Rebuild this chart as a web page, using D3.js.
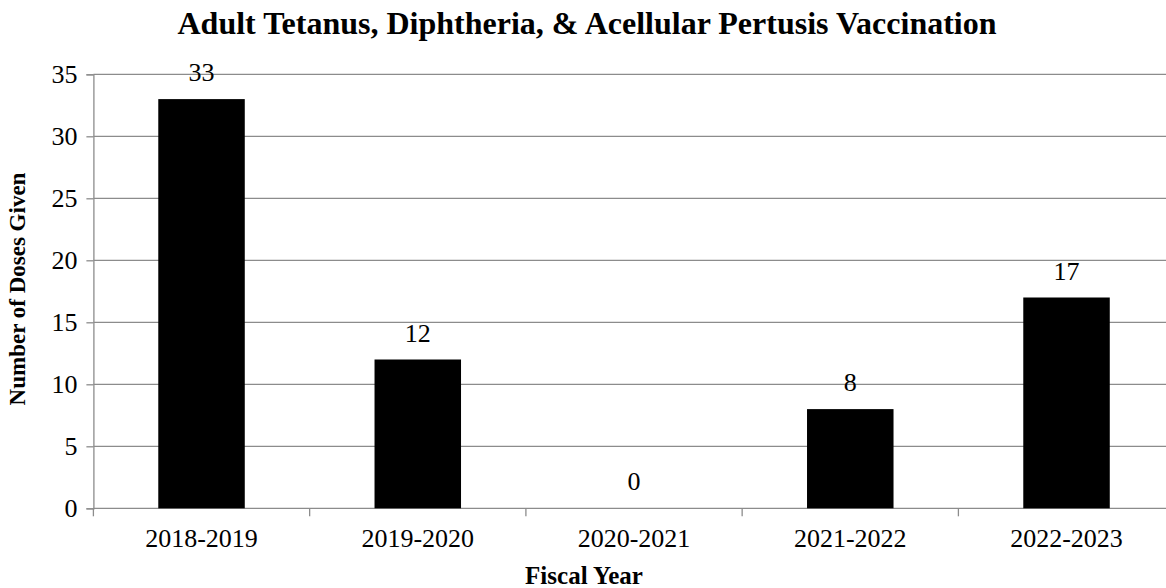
<!DOCTYPE html>
<html>
<head>
<meta charset="utf-8">
<script src="https://cdn.jsdelivr.net/npm/d3@7"></script>
<style>
  body { margin: 0; background: #fff; }
  svg { display: block; font-family: 'Liberation Serif', 'Times New Roman', serif; }
</style>
</head>
<body>
<svg id="chart"></svg>
<script>
const WIDTH = 1166;
const HEIGHT = 588;

const years = ['2018-2019', '2019-2020', '2020-2021', '2021-2022', '2022-2023'];
const doses = [33, 12, 0, 8, 17];
const yTicks = [0, 5, 10, 15, 20, 25, 30, 35];

const margin = {top: 74.3, left: 93.4, bottom: 508.3};
const plotRight = margin.left + 216.25 * years.length;

const svg = d3.select('#chart')
  .attr('width', WIDTH)
  .attr('height', HEIGHT);

const x = d3.scaleBand()
  .domain(years)
  .range([margin.left, plotRight])
  .paddingInner(0.6)
  .paddingOuter(0.3);

const y = d3.scaleLinear()
  .domain([0, 35])
  .range([margin.bottom, margin.top]);

// Gridlines
svg.append('g')
  .selectAll('line')
  .data(yTicks)
  .join('line')
  .attr('x1', margin.left)
  .attr('x2', plotRight)
  .attr('y1', d => y(d))
  .attr('y2', d => y(d))
  .attr('stroke', '#8c8c8c')
  .attr('stroke-width', 1.3);

// Y axis
const yAxis = svg.append('g')
  .attr('transform', `translate(${margin.left},0)`)
  .call(d3.axisLeft(y).tickValues(yTicks).tickSize(7).tickPadding(9));
yAxis.select('.domain').attr('stroke', '#8c8c8c').attr('stroke-width', 1.3);
yAxis.selectAll('.tick line').attr('stroke', '#8c8c8c').attr('stroke-width', 1.3);
yAxis.selectAll('.tick text')
  .attr('fill', '#000')
  .style('font-size', '26px')
  .style('font-family', "'Liberation Serif', 'Times New Roman', serif");

// X axis, ticks sit at the category boundaries
const xAxis = svg.append('g')
  .attr('transform', `translate(0,${margin.bottom})`)
  .call(d3.axisBottom(x).tickSize(0).tickPadding(14));
xAxis.select('.domain').remove();
xAxis.selectAll('.tick text')
  .attr('fill', '#000')
  .attr('dy', '0.95em')
  .style('font-size', '26px')
  .style('font-family', "'Liberation Serif', 'Times New Roman', serif");

const step = x.step();
svg.append('g')
  .selectAll('line')
  .data(years.slice(1))
  .join('line')
  .attr('x1', d => x(d) - step * 0.3)
  .attr('x2', d => x(d) - step * 0.3)
  .attr('y1', margin.bottom)
  .attr('y2', margin.bottom + 8)
  .attr('stroke', '#8c8c8c')
  .attr('stroke-width', 1.3);
svg.append('line')
  .attr('x1', margin.left).attr('x2', margin.left)
  .attr('y1', margin.bottom).attr('y2', margin.bottom + 8)
  .attr('stroke', '#8c8c8c').attr('stroke-width', 1.3);

// Bars
svg.append('g')
  .selectAll('rect')
  .data(doses)
  .join('rect')
  .attr('x', (d, i) => x(years[i]))
  .attr('y', d => y(d))
  .attr('width', x.bandwidth())
  .attr('height', d => y(0) - y(d))
  .attr('fill', '#000');

// Data labels
svg.append('g')
  .selectAll('text')
  .data(doses)
  .join('text')
  .attr('x', (d, i) => x(years[i]) + x.bandwidth() / 2)
  .attr('y', d => y(d) - 18)
  .attr('text-anchor', 'middle')
  .style('font-size', '26px')
  .text(d => d);

// Title
svg.append('text')
  .attr('x', 587)
  .attr('y', 34)
  .attr('text-anchor', 'middle')
  .style('font-size', '32px')
  .style('font-weight', 'bold')
  .text('Adult Tetanus, Diphtheria, & Acellular Pertusis Vaccination');

// Axis titles
svg.append('text')
  .attr('x', 584)
  .attr('y', 584)
  .attr('text-anchor', 'middle')
  .style('font-size', '25px')
  .style('font-weight', 'bold')
  .text('Fiscal Year');

svg.append('text')
  .attr('transform', 'translate(25,289) rotate(-90)')
  .attr('text-anchor', 'middle')
  .style('font-size', '23px')
  .style('font-weight', 'bold')
  .text('Number of Doses Given');
</script>
</body>
</html>
